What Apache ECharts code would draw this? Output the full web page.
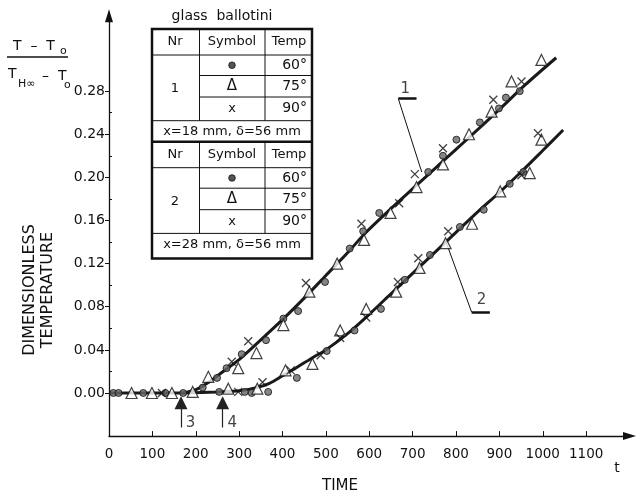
<!DOCTYPE html>
<html>
<head>
<meta charset="utf-8">
<script src="https://cdn.jsdelivr.net/npm/echarts@6/dist/echarts.min.js"></script>
<style>
  html, body { margin: 0; padding: 0; background: #fff; }
  #chart { width: 637px; height: 493px; }
</style>
</head>
<body>
<div id="chart"></div>
<script>
// tick labels
const xTicks = [0, 100, 200, 300, 400, 500, 600, 700, 800, 900, 1000, 1100]
const yTicks = [0, 0.04, 0.08, 0.12, 0.16, 0.20, 0.24, 0.28]
const yMinorTicks = [0.02, 0.06, 0.10, 0.14, 0.18, 0.22, 0.26]

// fitted curves (time, dimensionless temperature)
const curve1 = [[0, 0], [166, 0], [200, 0.003], [230, 0.010], [260, 0.019], [300, 0.031],
  [325, 0.040], [360, 0.053], [400, 0.068], [450, 0.088], [500, 0.109], [550, 0.130],
  [590, 0.148], [650, 0.171], [710, 0.193], [770, 0.215], [830, 0.237], [900, 0.263],
  [960, 0.286], [1031, 0.311]]
const curve2 = [[166, 0], [250, 0.001], [300, 0.002], [340, 0.005], [370, 0.009],
  [400, 0.016], [430, 0.023], [470, 0.033], [500, 0.040], [550, 0.055], [600, 0.073],
  [650, 0.092], [700, 0.111], [750, 0.130], [800, 0.149], [850, 0.168], [900, 0.186],
  [950, 0.205], [1000, 0.225], [1047, 0.244]]

// measured points, Nr 1 (x = 18 mm)
const n1Dot = [[10, 0], [22, 0], [79, 0], [130, 0], [216, 0.005], [249, 0.014], [271, 0.023],
  [306, 0.036], [362, 0.049], [402, 0.069], [436, 0.076], [498, 0.103], [555, 0.134],
  [586, 0.150], [623, 0.167], [736, 0.205], [770, 0.220], [801, 0.235], [855, 0.251],
  [899, 0.264], [915, 0.274], [947, 0.280]]
const n1Tri = [[52, 0], [99, 0], [145, 0], [193, 0.001], [229, 0.015], [298, 0.023],
  [340, 0.037], [402, 0.063], [462, 0.094], [526, 0.120], [588, 0.142], [649, 0.167],
  [709, 0.191], [770, 0.212], [830, 0.240], [882, 0.261], [928, 0.289], [997, 0.309]]
const n1Cross = [[122, 0], [283, 0.029], [321, 0.048], [454, 0.102], [582, 0.157],
  [669, 0.176], [705, 0.203], [770, 0.227], [886, 0.272], [951, 0.289]]

// measured points, Nr 2 (x = 28 mm)
const n2Dot = [[171, 0], [254, 0.001], [313, 0.001], [329, 0], [367, 0.001], [433, 0.014],
  [502, 0.039], [566, 0.058], [627, 0.078], [682, 0.105], [740, 0.128], [809, 0.154],
  [864, 0.170], [924, 0.194], [955, 0.205]]
const n2Tri = [[275, 0.004], [342, 0.004], [407, 0.021], [469, 0.027], [533, 0.058],
  [593, 0.078], [662, 0.094], [716, 0.116], [776, 0.139], [837, 0.157], [902, 0.187],
  [970, 0.204], [997, 0.235]]
const n2Cross = [[298, 0.001], [354, 0.010], [419, 0.021], [488, 0.035], [533, 0.051],
  [593, 0.070], [666, 0.103], [713, 0.125], [782, 0.150], [951, 0.202], [989, 0.241]]

// onset arrows 3 and 4
const onsetTimes = [166, 262]
const onsetNames = ['3', '4']
const arrowFrom = -0.032
const arrowTo = -0.009

// curve labels with leader lines
const curveNames = ['1', '2']
const curveLabelPos = [[683, 0.282], [859, 0.086]]
const leaderDiag = [[[721, 0.205], [667, 0.273]], [[778, 0.139], [836, 0.075]]]
const leaderFoot = [[[667, 0.273], [709, 0.273]], [[836, 0.075], [878, 0.075]]]

const FONT = 'DejaVu Sans'
const INK = '#111'

const chart = echarts.init(document.getElementById('chart'))

const dotStyle = { symbol: 'circle', symbolSize: 7, itemStyle: { color: '#666', borderColor: '#111', borderWidth: 1 } }
const triStyle = { symbol: 'triangle', symbolSize: [11, 11], itemStyle: { color: '#fff', borderColor: '#111', borderWidth: 1.2 } }
const crossStyle = { symbol: 'path://M0,0L10,10M10,0L0,10', symbolSize: 8, itemStyle: { color: 'transparent', borderColor: '#111', borderWidth: 1.3 } }

const pointSeries = (data, style) => Object.assign({
  type: 'scatter', data, z: 5, silent: true
}, style)

// ---- table legend (graphic) ----
const TX = 152, TW = 160, COL1 = 199.5, COL2 = 265
const table = []
const hline = (y, x1, x2, w) => table.push({ type: 'line', shape: { x1, y1: y, x2, y2: y }, style: { stroke: INK, lineWidth: w || 1 } })
const vline = (x, y1, y2) => table.push({ type: 'line', shape: { x1: x, y1, x2: x, y2 }, style: { stroke: INK, lineWidth: 1 } })
const txt = (s, x, y, size, align) => table.push({ type: 'text', x, y, style: { text: s, font: (size || 13) + 'px ' + FONT, fill: INK, align: align || 'center', verticalAlign: 'middle' } })

const sections = [
  { top: 29, nr: '1', foot: 'x=18 mm, δ=56 mm' },
  { top: 141.7, nr: '2', foot: 'x=28 mm, δ=56 mm' }
]
const temps = ['60°', '75°', '90°']
sections.forEach(s => {
  const t = s.top
  const rows = [t + 26, t + 46.5, t + 68, t + 91.7]
  hline(rows[0], TX, TX + TW)
  hline(rows[1], COL1, TX + TW)
  hline(rows[2], COL1, TX + TW)
  hline(rows[3], TX, TX + TW)
  vline(COL1, t, rows[3])
  vline(COL2, t, rows[3])
  txt('Nr', 175, t + 13)
  txt('Symbol', 232, t + 13)
  txt('Temp', 289, t + 13)
  txt(s.nr, 175, (rows[0] + rows[3]) / 2 + 1)
  const mids = [(rows[0] + rows[1]) / 2, (rows[1] + rows[2]) / 2, (rows[2] + rows[3]) / 2]
  table.push({ type: 'circle', shape: { cx: 232, cy: mids[0], r: 3.3 }, style: { fill: '#555', stroke: INK, lineWidth: 0.8 } })
  txt('Δ', 232, mids[1], 15)
  txt('x', 232, mids[2], 13)
  temps.forEach((tp, i) => txt(tp, 307, mids[i], 14, 'right'))
  txt(s.foot, 232, t + 102.5, 13)
})
hline(141.7, TX, TX + TW, 2.5)
table.push({ type: 'rect', shape: { x: TX, y: 29, width: TW, height: 229.5 }, style: { fill: 'none', stroke: INK, lineWidth: 2.5 } })
txt('glass  ballotini', 222, 16, 14)

// y-axis quantity: (T - To) / (TH∞ - To)
const formula = [
  { type: 'text', x: 13, y: 46, style: { text: 'T  –  T', font: '14px ' + FONT, fill: INK, verticalAlign: 'middle' } },
  { type: 'text', x: 60, y: 51, style: { text: 'o', font: '11px ' + FONT, fill: INK, verticalAlign: 'middle' } },
  { type: 'line', shape: { x1: 7, y1: 57, x2: 68, y2: 57 }, style: { stroke: INK, lineWidth: 1.3 } },
  { type: 'text', x: 8, y: 74, style: { text: 'T', font: '14px ' + FONT, fill: INK, verticalAlign: 'middle' } },
  { type: 'text', x: 18, y: 84, style: { text: 'H∞', font: '11px ' + FONT, fill: INK, verticalAlign: 'middle' } },
  { type: 'text', x: 42, y: 76, style: { text: '–  T', font: '14px ' + FONT, fill: INK, verticalAlign: 'middle' } },
  { type: 'text', x: 64, y: 85, style: { text: 'o', font: '11px ' + FONT, fill: INK, verticalAlign: 'middle' } }
]

const axisNames = [
  { type: 'text', x: 30, y: 290, rotation: Math.PI / 2, style: { text: 'DIMENSIONLESS', font: '16px ' + FONT, fill: INK, align: 'center', verticalAlign: 'middle' } },
  { type: 'text', x: 48, y: 290, rotation: Math.PI / 2, style: { text: 'TEMPERATURE', font: '16px ' + FONT, fill: INK, align: 'center', verticalAlign: 'middle' } },
  { type: 'text', x: 340, y: 486, style: { text: 'TIME', font: '15px ' + FONT, fill: INK, align: 'center', verticalAlign: 'middle' } },
  { type: 'text', x: 617, y: 468, style: { text: 't', font: '14px ' + FONT, fill: INK, align: 'center', verticalAlign: 'middle' } }
]

chart.setOption({
  animation: false,
  backgroundColor: '#fff',
  grid: { left: 109, right: 7.5, top: 15.7, bottom: 56.9, containLabel: false },
  xAxis: {
    type: 'value', min: 0, max: 1200,
    axisLine: { onZero: false, symbol: ['none', 'triangle'], symbolSize: [8, 13], lineStyle: { color: INK, width: 1.3 } },
    axisTick: { show: true, inside: true, length: 5, customValues: xTicks, lineStyle: { color: INK } },
    axisLabel: { customValues: xTicks, formatter: v => String(v), margin: 11, fontSize: 13.5, fontFamily: FONT, color: INK },
    splitLine: { show: false }
  },
  yAxis: [
    {
      type: 'value', min: -0.04, max: 0.35, position: 'left',
      axisLine: { show: true, onZero: false, symbol: ['none', 'triangle'], symbolSize: [8, 13], lineStyle: { color: INK, width: 1.3 } },
      axisTick: { show: true, inside: false, length: 4, customValues: yTicks, lineStyle: { color: INK } },
      axisLabel: { customValues: yTicks, formatter: v => v.toFixed(2), margin: 4, fontSize: 14, fontFamily: FONT, color: INK },
      splitLine: { show: false }
    },
    {
      type: 'value', min: -0.04, max: 0.35, position: 'left', offset: 0,
      axisLine: { show: false },
      axisTick: { show: true, inside: true, length: 3, customValues: yMinorTicks, lineStyle: { color: INK } },
      axisLabel: { show: false },
      splitLine: { show: false }
    }
  ],
  series: [
    { type: 'line', data: curve1, smooth: 0.3, showSymbol: false, silent: true, z: 3, lineStyle: { color: '#1a1a1a', width: 3 } },
    { type: 'line', data: curve2, smooth: 0.3, showSymbol: false, silent: true, z: 3, lineStyle: { color: '#1a1a1a', width: 3 } },
    pointSeries(n1Dot, dotStyle),
    pointSeries(n1Tri, triStyle),
    pointSeries(n1Cross, crossStyle),
    pointSeries(n2Dot, dotStyle),
    pointSeries(n2Tri, triStyle),
    pointSeries(n2Cross, crossStyle),
    {
      type: 'lines', coordinateSystem: 'cartesian2d', silent: true, z: 4,
      symbol: ['none', 'triangle'], symbolSize: [9, 13],
      lineStyle: { color: '#222', width: 1.2, opacity: 1 },
      data: onsetTimes.map(t => ({ coords: [[t, arrowFrom], [t, arrowTo]] }))
    },
    {
      type: 'scatter', silent: true, symbolSize: 1, itemStyle: { color: 'transparent' },
      label: { show: true, position: 'inside', formatter: p => p.name, fontSize: 15, fontFamily: FONT, color: INK },
      data: onsetTimes.map((t, i) => ({ name: onsetNames[i], value: [t + 22, -0.028] }))
    },
    {
      type: 'lines', coordinateSystem: 'cartesian2d', silent: true, z: 4, polyline: false,
      lineStyle: { color: INK, width: 1, opacity: 1 },
      data: leaderDiag.map(c => ({ coords: c }))
        .concat(leaderFoot.map(c => ({ coords: c, lineStyle: { width: 2.6 } })))
    },
    {
      type: 'scatter', silent: true, symbolSize: 1, itemStyle: { color: 'transparent' },
      label: { show: true, position: 'inside', formatter: p => p.name, fontSize: 15, fontFamily: FONT, color: INK },
      data: curveLabelPos.map((p, i) => ({ name: curveNames[i], value: p }))
    }
  ],
  graphic: table.concat(formula, axisNames)
})
</script>
</body>
</html>
